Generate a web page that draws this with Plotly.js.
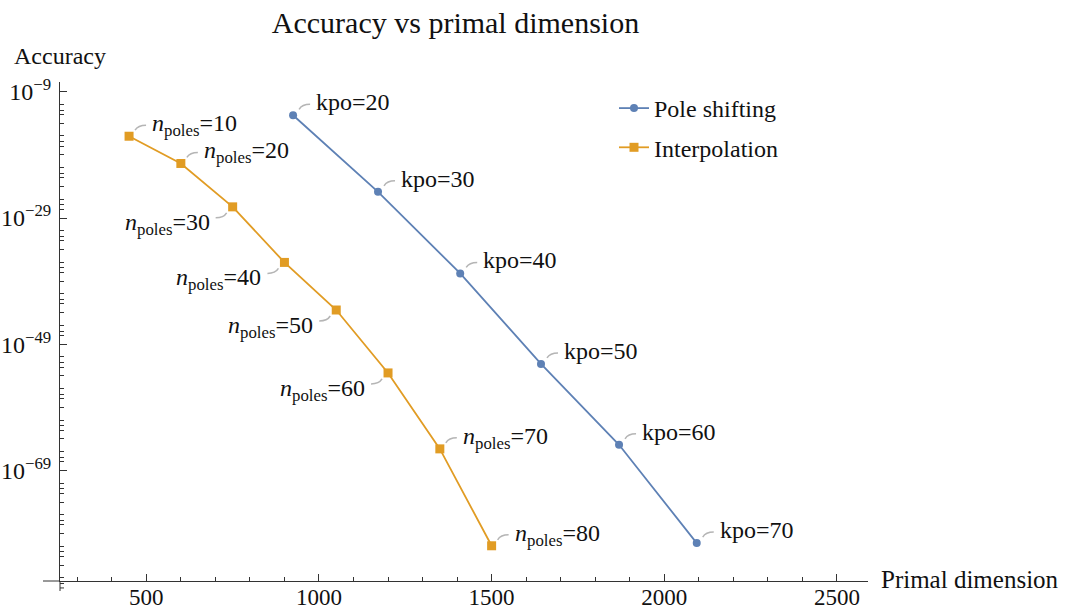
<!DOCTYPE html>
<html><head><meta charset="utf-8">
<script src="https://cdn.plot.ly/plotly-3.0.1.min.js"></script>
<style>html,body{margin:0;padding:0;background:#fff}</style>
</head><body>
<div id="chart" style="width:1065px;height:610px"></div>
<script>
// ---- data ----
const poleDim = [925, 1171, 1409, 1643, 1869, 2094];
const poleAcc = [1.9e-13, 1.4e-25, 1.7e-38, 7.6e-53, 1.2e-65, 3.2e-81];
const poleLabels = ['kpo=20', 'kpo=30', 'kpo=40', 'kpo=50', 'kpo=60', 'kpo=70'];
const poleSides = ['ur', 'ur', 'ur', 'ur', 'ur', 'ur'];

const interpDim = [450, 600, 750, 900, 1050, 1200, 1350, 1500];
const interpAcc = [9.1e-17, 4.4e-21, 5.9e-28, 9.3e-37, 2.7e-44, 2.9e-54, 2.7e-66, 1.2e-81];
const nPoles = [10, 20, 30, 40, 50, 60, 70, 80];
const interpLabels = nPoles.map(n => '<i>n</i><sub>poles</sub>=' + n);
const interpSides = ['ur', 'ur', 'll', 'll', 'll', 'll', 'ur', 'ur'];

const xTickVals = [500, 1000, 1500, 2000, 2500];
const yTickExp = [-9, -29, -49, -69];
const yTickVals = yTickExp.map(e => Math.pow(10, e));
const yTickText = yTickExp.map(e => '10<sup>−' + (-e) + '</sup>');

// ---- style / layout geometry ----
const FONT = 'Liberation Serif';
const BLUE = '#5E81B5', ORANGE = '#E19C24', AXC = '#333333', LEAD = '#b5b5b5';
const W = 1065, H = 610;
const M = {l: 60, r: 197, t: 82, b: 29};
const PW = W - M.l - M.r, PH = H - M.t - M.b;
const XR = [250, 2590];
const YR = [-86.5, -7.45];
const pxPerDec = PH / (YR[1] - YR[0]);

function px2px(px) { return (px - M.l) / PW; }
function py2py(py) { return (H - M.b - py) / PH; }

// minor y ticks
const yMinor = [];
for (let base = -4; base > -95; base -= 5) {
  [2.0, 2.9, 3.6, 5.0].forEach(off => {
    const v = base - off;
    if (Math.abs(((v + 9) % 20)) < 1e-9) return;
    yMinor.push(v);
  });
}
const yMinorIn = yMinor.filter(v => v > YR[0] && v < YR[1]).map(v => Math.pow(10, v));
const yMinorBelow = yMinor.filter(v => v < YR[0] && v > YR[0] - 1.6);

const traces = [
  {x: poleDim, y: poleAcc, name: 'Pole shifting', mode: 'lines+markers', legendgroup: 'a',
   line: {color: BLUE, width: 1.8}, marker: {color: BLUE, size: 8, symbol: 'circle'}, cliponaxis: false},
  {x: interpDim, y: interpAcc, name: 'Interpolation', mode: 'lines+markers', legendgroup: 'b',
   line: {color: ORANGE, width: 1.8}, marker: {color: ORANGE, size: 9, symbol: 'square'}, cliponaxis: false}
];

const shapes = [];
const annotations = [];
function addLabels(xs, ys, labels, sides, isSub) {
  xs.forEach((x, i) => {
    const ur = sides[i] === 'ur';
    shapes.push({type: 'path', xref: 'x', yref: 'y', xsizemode: 'pixel', ysizemode: 'pixel',
      xanchor: x, yanchor: ys[i],
      path: ur ? 'M 6 6 Q 9 11 17 11' : 'M -6 -6 Q -9 -11 -17 -11',
      line: {color: LEAD, width: 1.5}});
    annotations.push({x: x, y: Math.log10(ys[i]), xref: 'x', yref: 'y', text: labels[i],
      showarrow: false, xanchor: ur ? 'left' : 'right', yanchor: 'middle',
      xshift: ur ? 21 : -21, yshift: ur ? (isSub ? 11 : 13) : (isSub ? -17 : -15),
      font: {family: FONT, size: 24, color: '#111'}});
  });
}
addLabels(poleDim, poleAcc, poleLabels, poleSides, false);
addLabels(interpDim, interpAcc, interpLabels, interpSides, true);

// axis overhangs (Mathematica style crossing axes)
shapes.push({type: 'line', xref: 'paper', yref: 'paper', xsizemode: 'pixel', xanchor: 0,
  x0: -17, x1: 0, y0: 0, y1: 0, line: {color: AXC, width: 1}});
shapes.push({type: 'line', xref: 'paper', yref: 'paper', ysizemode: 'pixel', yanchor: 0,
  x0: 0, x1: 0, y0: 0, y1: -10, line: {color: AXC, width: 1}});
yMinorBelow.forEach(v => {
  const off = (YR[0] - v) * pxPerDec;
  shapes.push({type: 'line', xref: 'paper', yref: 'paper', xsizemode: 'pixel', ysizemode: 'pixel',
    xanchor: 0, yanchor: 0, x0: 0, x1: 4, y0: -off, y1: -off, line: {color: AXC, width: 1}});
});

annotations.push({xref: 'paper', yref: 'paper', x: px2px(12), y: py2py(56), xanchor: 'left', yanchor: 'middle',
  text: 'Accuracy', showarrow: false, font: {family: FONT, size: 24, color: '#111'}});
annotations.push({xref: 'paper', yref: 'paper', x: px2px(879), y: py2py(579), xanchor: 'left', yanchor: 'middle',
  text: 'Primal dimension', showarrow: false, font: {family: FONT, size: 25, color: '#111'}});

const layout = {
  width: W, height: H, margin: M,
  paper_bgcolor: '#fff', plot_bgcolor: '#fff',
  font: {family: FONT, size: 24, color: '#111'},
  title: {text: 'Accuracy vs primal dimension', font: {family: FONT, size: 30, color: '#111'},
    xref: 'container', yref: 'container', x: 455.5 / W, xanchor: 'center', y: 1 - 22 / H, yanchor: 'middle'},
  xaxis: {range: XR, showgrid: false, zeroline: false, showline: true, linecolor: AXC, linewidth: 1,
    tickvals: xTickVals, ticks: 'inside', ticklen: 7, tickcolor: AXC, tickwidth: 1,
    tickfont: {family: FONT, size: 23, color: '#111'}, ticklabelstandoff: -5,
    minor: {dtick: 100, tick0: 0, ticks: 'inside', ticklen: 4, tickcolor: AXC, tickwidth: 1, showgrid: false}},
  yaxis: {type: 'log', range: YR, showgrid: false, zeroline: false, showline: true, linecolor: AXC, linewidth: 1,
    tickvals: yTickVals, ticktext: yTickText, ticks: 'inside', ticklen: 7, tickcolor: AXC, tickwidth: 1,
    tickfont: {family: FONT, size: 24, color: '#111'}, ticklabelstandoff: 3,
    minor: {tickvals: yMinorIn, ticks: 'inside', ticklen: 4, tickcolor: AXC, tickwidth: 1, showgrid: false}},
  showlegend: true,
  legend: {x: px2px(614), y: py2py(86), xanchor: 'left', yanchor: 'top', bgcolor: 'rgba(0,0,0,0)',
    font: {family: FONT, size: 24, color: '#111'}, tracegroupgap: 5, traceorder: 'grouped'},
  shapes: shapes, annotations: annotations
};

Plotly.newPlot('chart', traces, layout, {displayModeBar: false, staticPlot: true});
</script>
</body></html>
